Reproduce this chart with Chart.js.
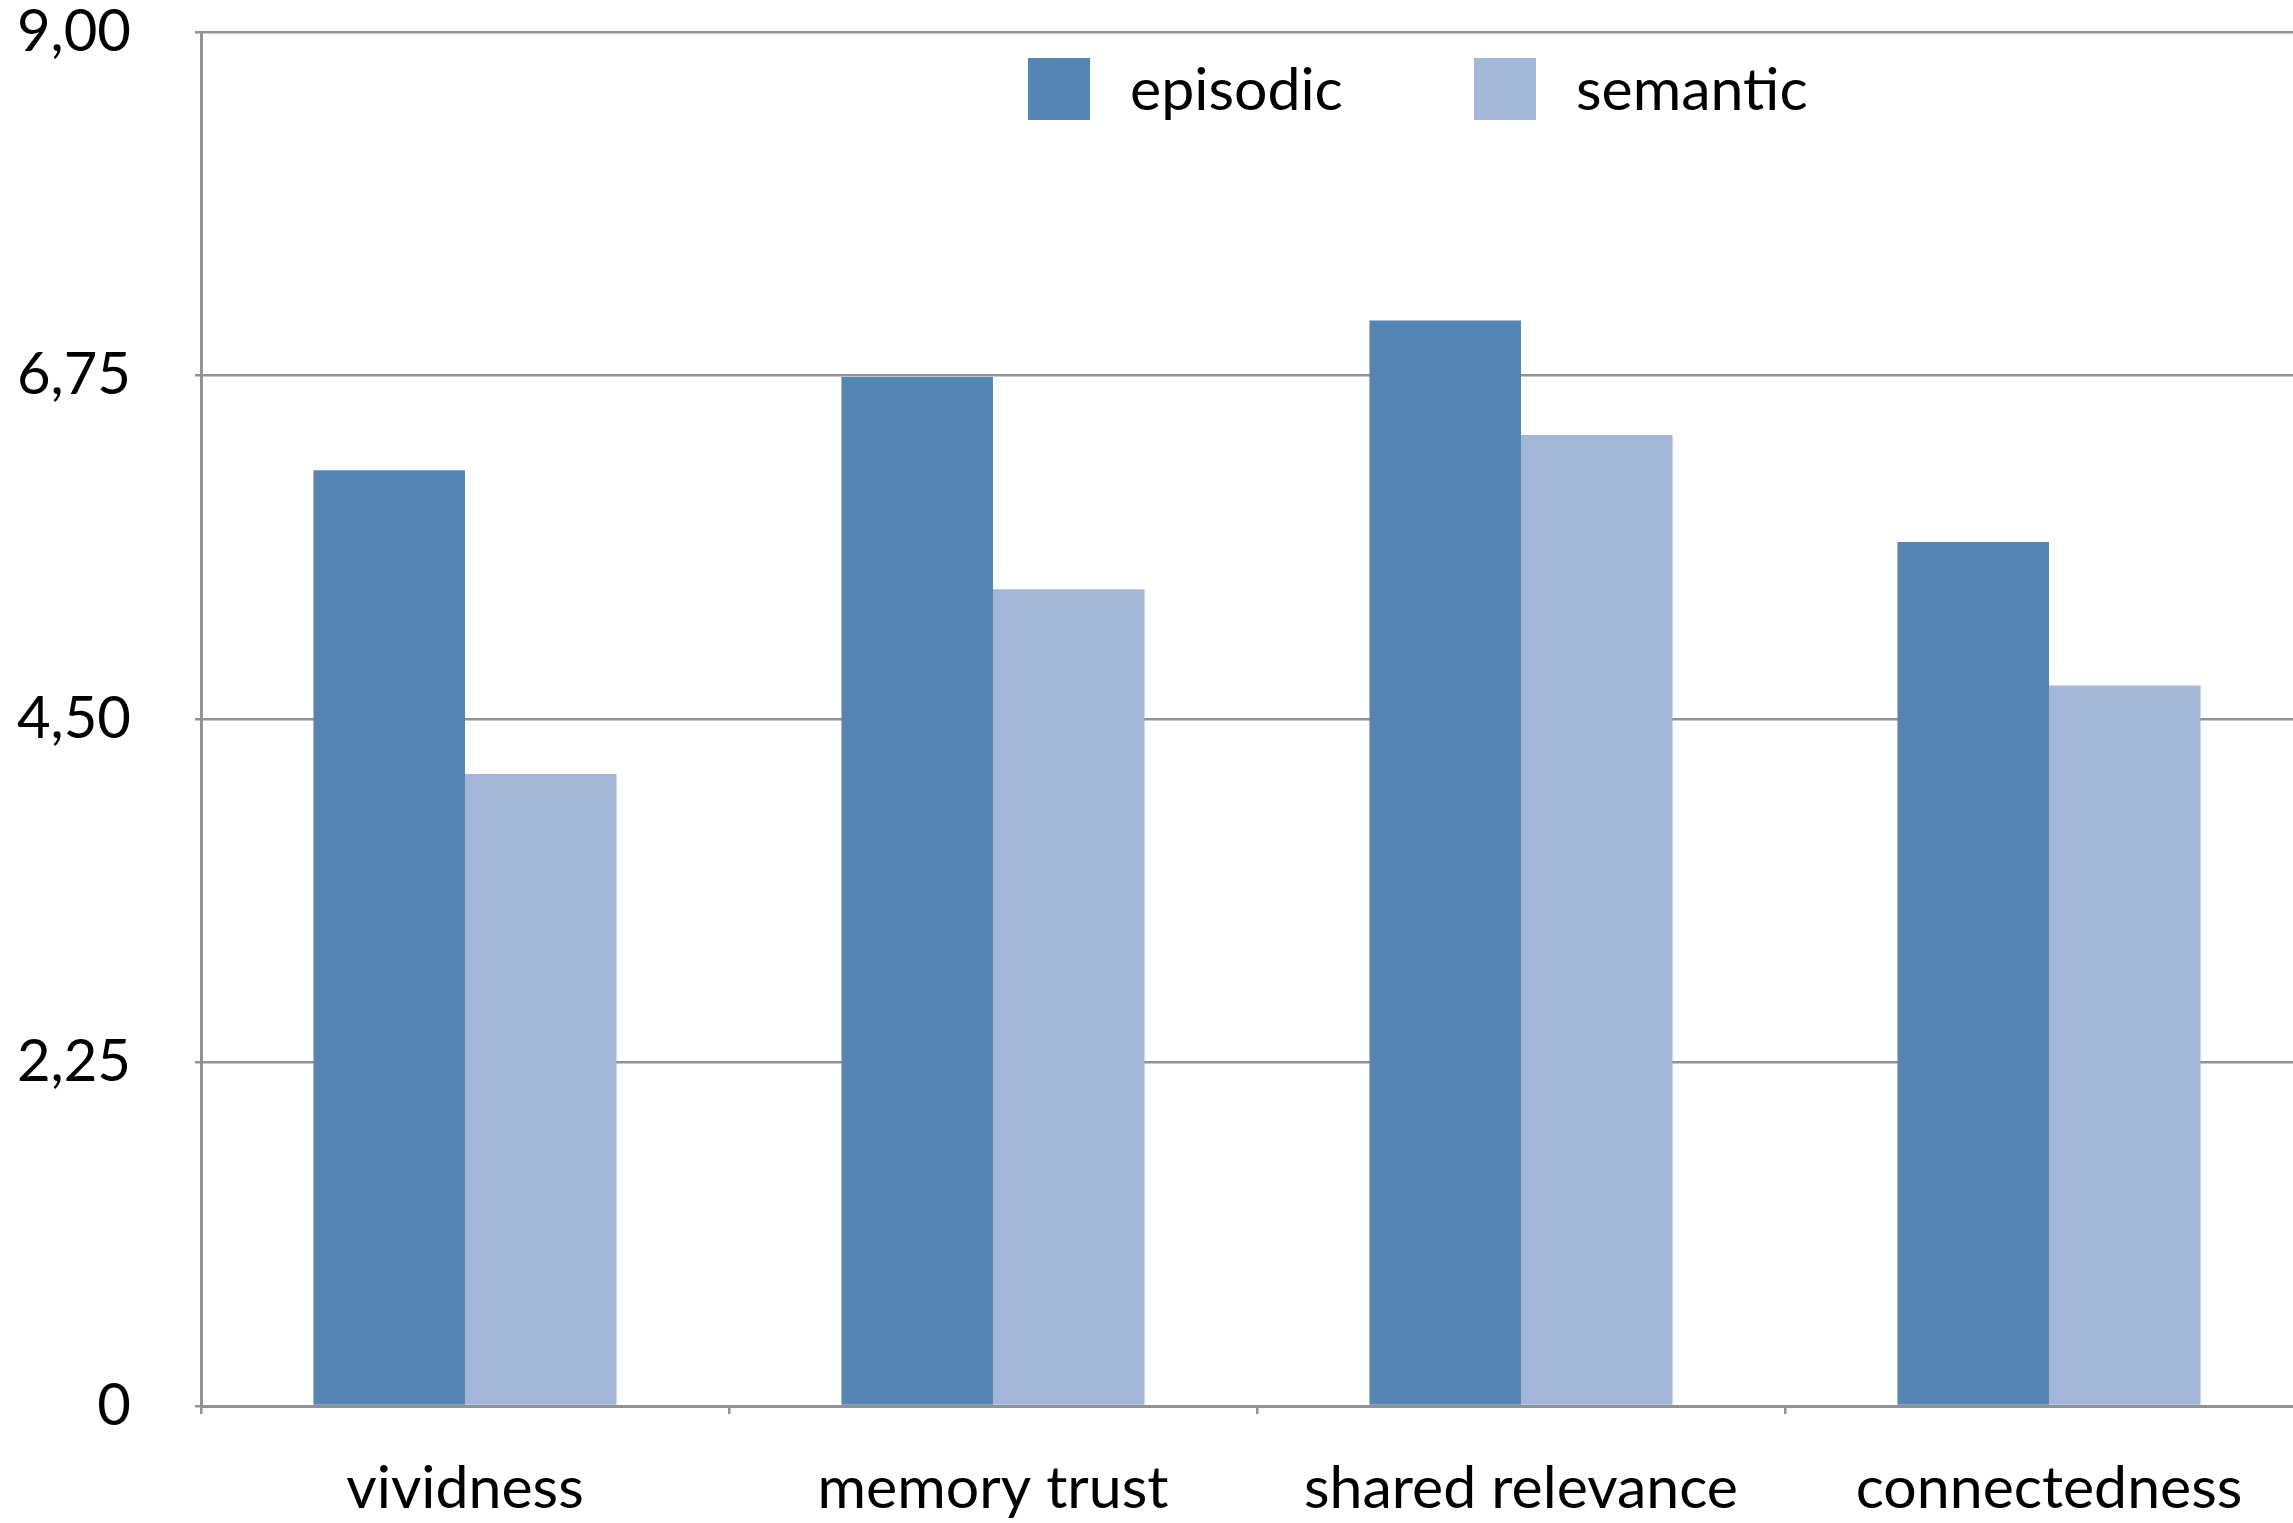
<!DOCTYPE html>
<html>
<head>
<meta charset="utf-8">
<script src="https://cdn.jsdelivr.net/npm/chart.js@4"></script>
<style>
  html, body { margin: 0; padding: 0; background: #fff; overflow: hidden; }
  #wrap { width: 2320px; height: 1523px; position: relative; }
</style>
</head>
<body>
<div id="wrap"><canvas id="ratingChart"></canvas></div>
<script>
// mean ratings per memory dimension
const categories = ["vividness", "memory trust", "shared relevance", "connectedness"];
const episodic = [6.13, 6.74, 7.11, 5.66];
const semantic = [4.14, 5.35, 6.36, 4.72];
const yTicks = [0, 2.25, 4.5, 6.75, 9];

const FONT = "Lato, 'Open Sans', sans-serif";
const GRID = "#929292";

// legend drawn inside the plot, up near the top edge
const innerLegend = {
  id: "innerLegend",
  afterDraw(chart) {
    const ctx = chart.ctx;
    const slots = [1028, 1474];
    ctx.save();
    ctx.font = "59px " + FONT;
    ctx.textBaseline = "middle";
    chart.data.datasets.forEach((ds, i) => {
      const x = slots[i];
      ctx.fillStyle = ds.backgroundColor;
      ctx.fillRect(x, 58, 62, 62);
      ctx.fillStyle = "#000";
      ctx.fillText(ds.label, x + 102, 91);
    });
    ctx.restore();
  },
};

const ctx = document.getElementById("ratingChart").getContext("2d");
const chart = new Chart(ctx, {
  type: "bar",
  data: {
    labels: categories,
    datasets: [
      {
        label: "episodic",
        data: episodic,
        backgroundColor: "#5585B5",
        barPercentage: 1,
        categoryPercentage: 0.574,
      },
      {
        label: "semantic",
        data: semantic,
        backgroundColor: "#A4B7D8",
        barPercentage: 1,
        categoryPercentage: 0.574,
      },
    ],
  },
  options: {
    responsive: true,
    maintainAspectRatio: false,
    animation: false,
    layout: { padding: { top: 32, right: 7, left: 0, bottom: 0 } },
    plugins: {
      legend: { display: false },
      tooltip: { enabled: false },
    },
    scales: {
      x: {
        grid: {
          offset: true,
          drawOnChartArea: false,
          color: GRID,
          lineWidth: 2.5,
          tickLength: 8,
        },
        border: { color: GRID, width: 3 },
        ticks: {
          color: "#000",
          font: { family: FONT, size: 59 },
          padding: 40,
        },
        afterFit(scale) {
          scale.height = 117;
        },
      },
      y: {
        min: 0,
        max: 9,
        afterBuildTicks(scale) {
          scale.ticks = yTicks.map((v) => ({ value: v }));
        },
        grid: {
          color: GRID,
          lineWidth: 2.5,
          tickLength: 6,
        },
        border: { color: GRID, width: 3 },
        ticks: {
          color: "#000",
          font: { family: FONT, size: 58 },
          padding: 64,
          callback: (v) => (v === 0 ? "0" : v.toFixed(2).replace(".", ",")),
        },
        afterFit(scale) {
          // fixed axis width; don't let the label gap push the plot down
          scale.width = 201;
          scale.paddingTop = 0;
          scale.paddingBottom = 0;
        },
      },
    },
  },
  plugins: [innerLegend],
});
</script>
</body>
</html>
